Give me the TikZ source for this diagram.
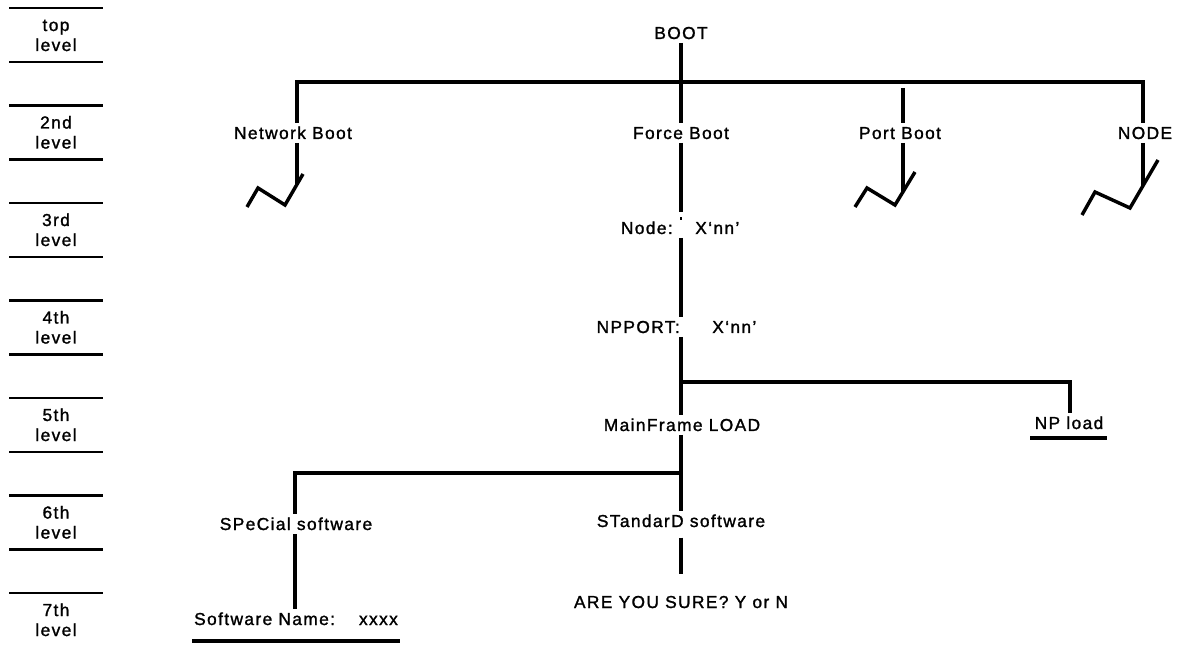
\documentclass[tikz,border=0pt]{standalone}
\usepackage{fontspec}
\setmainfont{Liberation Sans}[LetterSpace=8,FakeBold=1.4]
\begin{document}
\begin{tikzpicture}[x=0.75pt,y=-0.75pt,
  lbl/.style={font=\fontsize{13}{15}\selectfont, inner sep=0pt, outer ysep=3pt,
    text height=9.3pt, text depth=0pt, anchor=base},
  wire/.style={line width=2.6pt},
  thickwire/.style={line width=3.5pt},
  rule/.style={line width=1.8pt},
  zig/.style={line width=2.6pt, line join=miter}]
\useasboundingbox (0,0) rectangle (1179,645);

% level column
\foreach \t [count=\i from 0] in {top,2nd,3rd,4th,5th,6th,7th} {
  \pgfmathsetmacro\ya{31+97.5*\i}
  \pgfmathsetmacro\yb{51+97.5*\i}
  \pgfmathsetmacro\la{8+97.5*\i}
  \pgfmathsetmacro\lb{62+97.5*\i}
  \node[lbl] (lvt\i) at (56,\ya) {\t};
  \node[lbl] (lvl\i) at (56,\yb) {level};
  \draw[rule] (9,\la) -- (103,\la);
  \ifnum\i<6 \draw[rule] (9,\lb) -- (103,\lb); \fi
}

% text nodes
\node[lbl] (boot) at (681,39) {BOOT};
\node[lbl] (netb) at (293,139) {Network Boot};
\node[lbl] (force) at (681,139) {Force Boot};
\node[lbl] (portb) at (900,139) {Port Boot};
\node[lbl] (nodeN) at (1145,139) {NODE};
\node[lbl, anchor=base east] (nodeL) at (673,234) {Node:};
\node[lbl, anchor=base west] (nodeX) at (695,234) {X`nn'};
\node[lbl, anchor=base east] (npL) at (680,333) {NPPORT:};
\node[lbl, anchor=base west] (npX) at (712,333) {X`nn'};
\node[lbl] (mf) at (682,431) {MainFrame LOAD};
\node[lbl] (npload) at (1069,429) {NP load};
\node[lbl] (spec) at (296,530) {SPeCial software};
\node[lbl] (std) at (681,527) {STandarD software};
\node[lbl] (swname) at (296,625) {Software Name:\hspace{18pt}xxxx};
\node[lbl] (sure) at (681,608) {ARE YOU SURE? Y or N};

% junction coordinates
\coordinate (spine) at (681,0);
\coordinate (nb) at (297,82);
\coordinate (nd) at (1143,82);
\coordinate (pb) at (903,88);
\coordinate (z1) at (297,184);
\coordinate (z2) at (903,192);
\coordinate (z3) at (1143,186);
\coordinate (fd) at (681,212);
\coordinate (br5) at (1070,382);
\coordinate (br6) at (295,473);
\coordinate (u1a) at (1030,438);
\coordinate (u1b) at (1107,438);
\coordinate (u2a) at (192,641);
\coordinate (u2b) at (400,641);

% connectors
\draw[wire] (boot.south) -- (force.north);
\draw[wire] (netb.north -| nb) -- (nb) -- (nd) -- (nodeN.north -| nd);
\draw[wire] (pb) -- (pb |- portb.north);
\draw[wire] (netb.south -| z1) -- (z1);
\draw[wire] (portb.south -| z2) -- (z2);
\draw[wire] (nodeN.south -| z3) -- (z3);
\draw[wire] (force.south) -- (fd);
\draw[line width=1.5pt] (681,217.5) -- (681,220);
\draw[wire] (spine |- nodeL.south) -- (spine |- npL.north);
\draw[wire] (spine |- npL.south) -- (spine |- mf.north);
\draw[wire] (spine |- br5) -- (br5) -- (br5 |- npload.north);
\draw[wire] (spine |- mf.south) -- (spine |- std.north);
\draw[wire] (spine |- br6) -- (br6) -- (br6 |- spec.north);
\draw[wire] (br6 |- spec.south) -- (br6 |- swname.north);
\draw[thickwire, shorten <=5pt, shorten >=13pt] (std.south) -- (sure.north);

% zigzag break marks
\draw[zig] (247,207) -- (258,188) -- (285,205) -- (303,174);
\draw[zig] (855,207) -- (867,188) -- (895,205) -- (915,172);
\draw[zig] (1082,215) -- (1095,192) -- (1130,208) -- (1158,160);

% underlines
\draw[wire] (u1a) -- (u1b);
\draw[wire] (u2a) -- (u2b);
\end{tikzpicture}
\end{document}
